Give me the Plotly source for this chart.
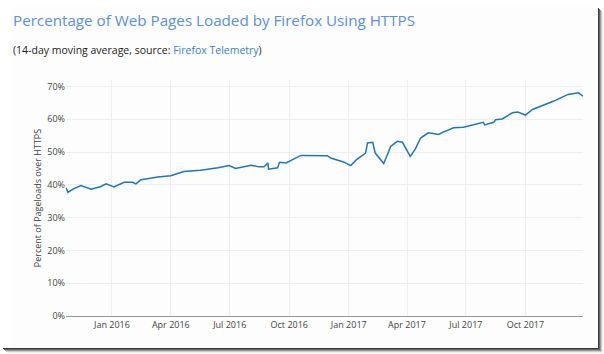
import plotly.graph_objects as go

dates = ["2015-10-22","2015-10-25","2015-11-02","2015-11-14","2015-11-30","2015-12-15","2015-12-23",
         "2016-01-04","2016-01-20","2016-02-02","2016-02-07","2016-02-15","2016-03-12","2016-03-27",
         "2016-04-01","2016-04-21","2016-05-17","2016-06-13","2016-06-30","2016-07-10","2016-08-03",
         "2016-08-15","2016-08-23","2016-08-29","2016-08-30","2016-09-13","2016-09-16","2016-09-26",
         "2016-10-19","2016-11-29","2016-12-04","2016-12-24","2017-01-04","2017-01-13","2017-01-22",
         "2017-01-27","2017-01-30","2017-02-07","2017-02-11","2017-02-24","2017-03-07","2017-03-17",
         "2017-03-25","2017-04-06","2017-04-14","2017-04-22","2017-05-04","2017-05-20","2017-05-27",
         "2017-06-12","2017-06-27","2017-07-28","2017-07-30","2017-08-13","2017-08-16","2017-08-26",
         "2017-09-11","2017-09-19","2017-10-01","2017-10-12","2017-11-13","2017-12-06","2017-12-22",
         "2017-12-29"]
values = [39.1,37.7,38.7,39.8,38.7,39.5,40.3,
          39.4,40.8,40.8,40.3,41.6,42.4,42.6,
          42.8,44.1,44.5,45.2,45.9,45.0,46.0,
          45.5,45.5,46.7,44.8,45.2,46.9,46.7,
          49.0,48.9,48.2,47.0,45.9,47.7,48.9,
          49.7,52.8,53.0,49.7,46.5,51.8,53.3,
          53.0,48.7,51.0,54.3,55.9,55.4,56.1,
          57.4,57.6,59.1,58.3,59.1,59.9,60.1,
          62.0,62.2,61.3,63.0,65.5,67.6,68.1,
          67.1]
values = [v / 100 for v in values]

title_text = "Percentage of Web Pages Loaded by Firefox Using HTTPS"
subtitle_text = "(14-day moving average, source: <span style='color:#3b7fd4'>Firefox Telemetry</span>)"
y_title = "Percent of Pageloads over HTTPS"

W, H = 604, 354
L, R, T, B = 66, 21, 80, 38
PW, PH = W - L - R, H - T - B

def px(x):
    return (x - L) / PW

def py(y):
    return (H - B - y) / PH

fig = go.Figure()
fig.add_trace(go.Scatter(x=dates, y=values, mode="lines",
                         line=dict(color="#1f77b4", width=1.5), hoverinfo="skip"))

shapes = []
shapes.append(dict(type="rect", xref="paper", yref="paper", x0=px(11), x1=px(598), y0=py(7), y1=py(348),
                   fillcolor="#fdfdfd", line=dict(width=0), layer="below"))
for i, c in enumerate(["#3a3a3a", "#666666", "#999999", "#cccccc", "#eeeeee"]):
    shapes.append(dict(type="rect", xref="paper", yref="paper",
                       x0=px(598 + i), x1=px(599 + i), y0=py(8 + i), y1=py(349 + i),
                       fillcolor=c, line=dict(width=0), layer="below"))
    shapes.append(dict(type="rect", xref="paper", yref="paper",
                       x0=px(3 + i), x1=px(599 + i), y0=py(348 + i), y1=py(349 + i),
                       fillcolor=c, line=dict(width=0), layer="below"))

fig.update_layout(
    width=W, height=H,
    margin=dict(l=L, r=R, t=T, b=B),
    paper_bgcolor="white", plot_bgcolor="rgba(0,0,0,0)",
    showlegend=False,
    font=dict(family="Open Sans", color="#444", size=9),
    shapes=shapes,
    annotations=[
        dict(text=title_text, xref="paper", yref="paper", x=px(11), y=py(20),
             xanchor="left", yanchor="middle", showarrow=False,
             font=dict(family="Open Sans", size=15.2, color="#5b8fe0")),
        dict(text=subtitle_text, xref="paper", yref="paper", x=px(11), y=py(50),
             xanchor="left", yanchor="middle", showarrow=False,
             font=dict(family="Open Sans", size=10.5, color="#222")),
    ],
    xaxis=dict(
        type="date", range=["2015-10-22", "2017-12-29"],
        dtick="M3", tick0="2016-01-01", tickformat="%b %Y",
        showgrid=True, gridcolor="#eeeeee", gridwidth=1,
        showline=True, linecolor="#999999", linewidth=1,
        ticks="", tickfont=dict(size=9, color="#444"),
        zeroline=False,
    ),
    yaxis=dict(
        range=[0, 0.72], dtick=0.1, tickformat=".0%",
        showgrid=True, gridcolor="#eeeeee", gridwidth=1,
        zeroline=False, showline=False, ticks="",
        tickfont=dict(size=9, color="#444"),
        title=dict(text=y_title, font=dict(size=9, color="#444"), standoff=4),
    ),
)

fig.write_html("out.html")
